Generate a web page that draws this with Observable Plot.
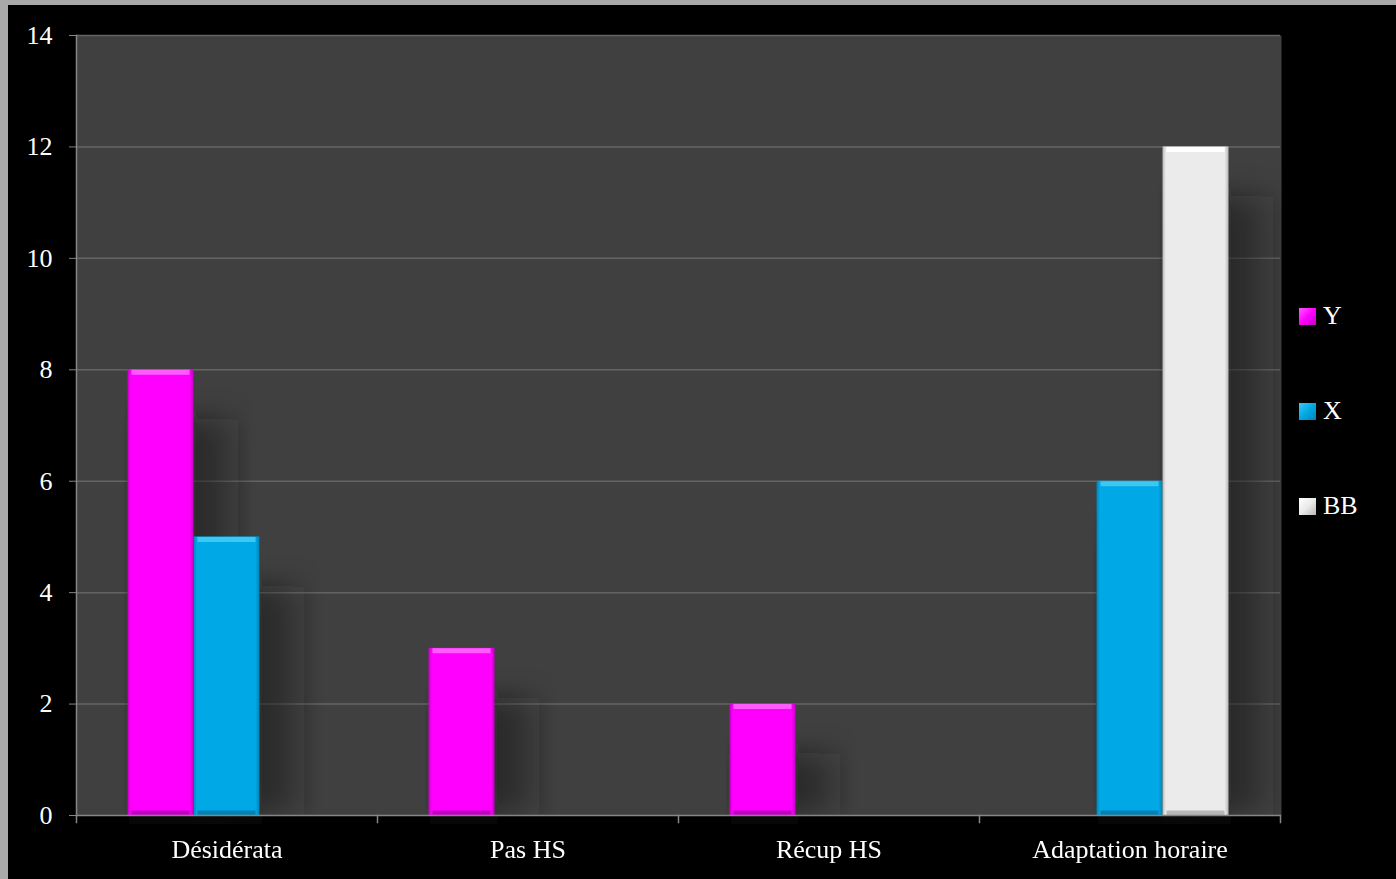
<!DOCTYPE html>
<html>
<head>
<meta charset="utf-8">
<script src="https://cdn.jsdelivr.net/npm/d3@7"></script>
<script src="https://cdn.jsdelivr.net/npm/@observablehq/plot@0.6"></script>
<style>
  html, body { margin: 0; padding: 0; }
  body { width: 1396px; height: 879px; background: #a9a9a9; position: relative; overflow: hidden; font-family: "Liberation Serif", "DejaVu Serif", serif; }
  #chart { position: absolute; left: 8px; top: 5px; width: 1388px; height: 874px; background: #000; }
  #legend { position: absolute; left: 1299px; top: 0; }
  .item { position: absolute; left: 0; display: flex; align-items: center; white-space: nowrap; color: #fff; font-size: 26px; }
  .sw { width: 17px; height: 17px; margin-right: 7px; }
</style>
</head>
<body>
<div id="chart"></div>
<div id="legend"></div>
<script>
const categories = ["Désidérata", "Pas HS", "Récup HS", "Adaptation horaire"];
const seriesNames = ["Y", "X", "BB"];
const valuesY = [8, 3, 2, 0];
const valuesX = [5, 0, 0, 6];
const valuesBB = [0, 0, 0, 12];
const colors = ["#ff00ff", "#00a9e6", "#ebebeb"];
const lightColors = ["#ff5cff", "#3cc8f5", "#ffffff"];
const darkColors = ["#c400c4", "#0082b5", "#b8b8b8"];
const yTicks = [0, 2, 4, 6, 8, 10, 12, 14];

const allValues = [valuesY, valuesX, valuesBB];
const data = [];
categories.forEach((c, i) => {
  seriesNames.forEach((s, j) => {
    const v = allValues[j][i];
    if (v > 0) data.push({cat: c, series: s, value: v});
  });
});

const W = 1388, H = 874;
const mL = 68, mT = 30, mR = 116, mB = 64;
const plotH = H - mT - mB;
const gridColor = "#646464";
const axisColor = "#868686";
const fontSize = 26;

const chart = Plot.plot({
  width: W, height: H,
  marginLeft: mL, marginTop: mT, marginRight: mR, marginBottom: mB,
  style: {background: "#000", color: "#fff", fontFamily: "'Liberation Serif', 'DejaVu Serif', serif", fontSize: fontSize + "px"},
  fx: {domain: categories, padding: 0, round: false, label: null, axis: null},
  x: {domain: seriesNames, paddingInner: 0, paddingOuter: 0.78, round: false, axis: null},
  y: {domain: [0, 14], label: null},
  color: {domain: seriesNames, range: seriesNames.map((s, i) => `url(#grad${i})`)},
  marks: [
    Plot.frame({fill: "#404040", insetRight: -1}),
    Plot.ruleY(yTicks.filter(d => d > 0), {stroke: gridColor, strokeWidth: 1.5}),
    Plot.barY(data, {fx: "cat", x: "series", y: "value", fill: "url(#shadowGrad)", insetTop: 50, insetRight: -60, ariaDescription: "shadow"}),
    Plot.barY(data, {fx: "cat", x: "series", y: "value", fill: "series"}),
    Plot.tickY(data, {fx: "cat", x: "series", y: "value", stroke: d => lightColors[seriesNames.indexOf(d.series)], strokeWidth: 5, dy: 2.5, insetLeft: 4, insetRight: 4}),
    Plot.tickY(data, {fx: "cat", x: "series", y: 0, stroke: d => darkColors[seriesNames.indexOf(d.series)], strokeWidth: 5, dy: -2.5, insetLeft: 4, insetRight: 4}),
    Plot.frame({anchor: "left", stroke: axisColor, strokeWidth: 1.5, facetAnchor: "left"}),
    Plot.ruleY([0], {stroke: axisColor, strokeWidth: 1.5}),
    Plot.frame({anchor: "left", stroke: axisColor, strokeWidth: 1.5, insetTop: plotH, insetBottom: -7}),
    Plot.frame({anchor: "right", stroke: axisColor, strokeWidth: 1.5, insetTop: plotH, insetBottom: -7, facetAnchor: "right"}),
    Plot.axisY(yTicks, {tickSize: 7, tickPadding: 17, stroke: axisColor, fill: "#fff", label: null, fontSize: fontSize, tickFormat: d3.format("d")}),
    Plot.axisFx({anchor: "bottom", tickSize: 0, tickPadding: 24, fill: "#fff", label: null, fontSize: fontSize})
  ]
});

document.getElementById("chart").appendChild(chart);

// gradient defs & shadow blur
const svg = d3.select(chart.tagName.toLowerCase() === "svg" ? chart : chart.querySelector("svg"));
const defs = svg.insert("defs", ":first-child");
colors.forEach((c, i) => {
  const g = defs.append("linearGradient").attr("id", `grad${i}`).attr("x1", 0).attr("x2", 1).attr("y1", 0).attr("y2", 0);
  g.append("stop").attr("offset", "0%").attr("stop-color", darkColors[i]);
  g.append("stop").attr("offset", "5%").attr("stop-color", c);
  g.append("stop").attr("offset", "94%").attr("stop-color", c);
  g.append("stop").attr("offset", "100%").attr("stop-color", darkColors[i]);
});
const sg = defs.append("linearGradient").attr("id", "shadowGrad").attr("x1", 0).attr("x2", 1).attr("y1", 0).attr("y2", 0);
sg.append("stop").attr("offset", "50%").attr("stop-color", "#1c1c1c").attr("stop-opacity", 0.55);
sg.append("stop").attr("offset", "70%").attr("stop-color", "#1c1c1c").attr("stop-opacity", 0.4);
sg.append("stop").attr("offset", "100%").attr("stop-color", "#1c1c1c").attr("stop-opacity", 0);
defs.append("filter").attr("id", "blurShadow").attr("x", "-30%").attr("y", "-30%").attr("width", "160%").attr("height", "160%")
  .append("feGaussianBlur").attr("stdDeviation", "2 14");
svg.selectAll('g[aria-description="shadow"]').attr("filter", "url(#blurShadow)");

// legend
const legend = document.getElementById("legend");
const legendY = [316, 411, 506];
seriesNames.forEach((s, i) => {
  const item = document.createElement("div");
  item.className = "item";
  item.style.top = (legendY[i] - 15) + "px";
  item.style.height = "30px";
  const sw = document.createElement("div");
  sw.className = "sw";
  sw.style.background = `linear-gradient(135deg, ${lightColors[i]}, ${colors[i]} 50%, ${darkColors[i]})`;
  const t = document.createElement("span");
  t.textContent = s;
  item.appendChild(sw);
  item.appendChild(t);
  legend.appendChild(item);
});
</script>
</body>
</html>
